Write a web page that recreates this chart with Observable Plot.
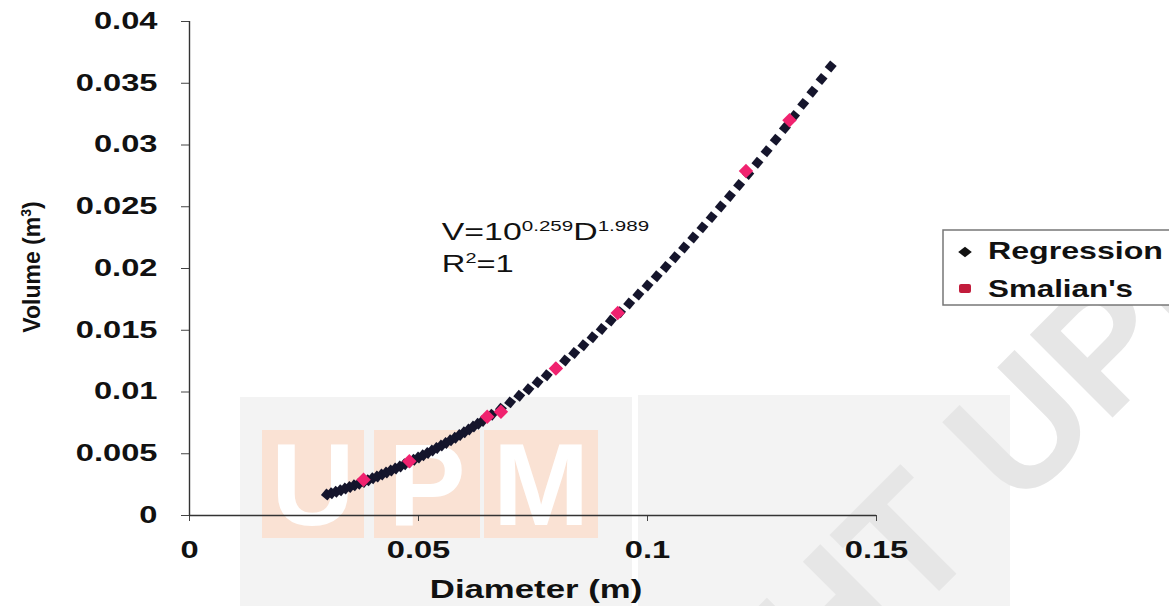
<!DOCTYPE html>
<html>
<head>
<meta charset="utf-8">
<script src="https://cdn.jsdelivr.net/npm/d3@7"></script>
<script src="https://cdn.jsdelivr.net/npm/@observablehq/plot@0.6"></script>
<style>
  html, body { margin: 0; padding: 0; background: #fff; }
  #wrap { position: relative; width: 1169px; height: 606px; overflow: hidden;
          font-family: "Liberation Sans", Arial, sans-serif; }
  #bg, #chart { position: absolute; left: 0; top: 0; }
</style>
</head>
<body>
<div id="wrap">
  <!-- faint university watermark behind the plot -->
  <svg id="bg" width="1169" height="606" font-family="Liberation Sans, Arial, sans-serif">
    <rect x="240" y="397" width="392" height="209" fill="#f3f3f3"/>
    <rect x="638" y="395" width="372" height="211" fill="#f3f3f3"/>
    <rect x="262" y="430" width="102" height="108" fill="#fae2d4"/>
    <rect x="374" y="430" width="106" height="108" fill="#fae2d4"/>
    <rect x="484" y="430" width="114" height="108" fill="#fae2d4"/>
    <g fill="#ffffff" font-weight="bold" font-size="116" text-anchor="middle">
      <text x="313" y="525">U</text>
      <text x="427" y="525">P</text>
      <text x="541" y="525">M</text>
    </g>
    <g transform="translate(785,745) rotate(-45)" fill="#e6e6e6" font-weight="bold" font-size="170">
      <text x="282" text-anchor="end">© COPYRIGHT</text>
      <text x="329">UPM</text>
    </g>
  </svg>
  <div id="chart"></div>
</div>
<script>
// Regression curve V = 10^0.259 · D^1.989, evaluated at the plotted diameters (m)
const diameter = [
  0.030, 0.031, 0.032, 0.033, 0.034, 0.035, 0.036, 0.037, 0.038, 0.039,
  0.040, 0.041, 0.042, 0.043, 0.044, 0.045, 0.046, 0.047, 0.048, 0.049,
  0.050, 0.051, 0.052, 0.053, 0.054, 0.055, 0.056, 0.057, 0.058, 0.059,
  0.060, 0.061, 0.062, 0.063, 0.064, 0.066, 0.068, 0.070, 0.072, 0.074,
  0.076, 0.078, 0.080, 0.082, 0.084, 0.086, 0.088, 0.090, 0.092, 0.094,
  0.096, 0.098, 0.100, 0.102, 0.104, 0.106, 0.108, 0.110, 0.112, 0.114,
  0.116, 0.118, 0.120, 0.122, 0.124, 0.126, 0.128, 0.130, 0.132, 0.134,
  0.136, 0.138, 0.140
];
const volume = [
  0.00170, 0.00181, 0.00193, 0.00205, 0.00218, 0.00231, 0.00244, 0.00258, 0.00272, 0.00286,
  0.00301, 0.00316, 0.00332, 0.00348, 0.00364, 0.00380, 0.00397, 0.00415, 0.00433, 0.00451,
  0.00469, 0.00488, 0.00507, 0.00527, 0.00547, 0.00567, 0.00588, 0.00609, 0.00630, 0.00652,
  0.00674, 0.00697, 0.00720, 0.00743, 0.00766, 0.00815, 0.00865, 0.00916, 0.00969, 0.01023,
  0.01079, 0.01136, 0.01195, 0.01255, 0.01316, 0.01379, 0.01444, 0.01510, 0.01578, 0.01646,
  0.01717, 0.01789, 0.01862, 0.01937, 0.02013, 0.02091, 0.02170, 0.02251, 0.02333, 0.02416,
  0.02502, 0.02588, 0.02676, 0.02765, 0.02856, 0.02949, 0.03043, 0.03138, 0.03235, 0.03333,
  0.03432, 0.03534, 0.03636
];

// Smalian's formula volumes of the sampled stems
const smalianDiameter = [0.038, 0.048, 0.065, 0.068, 0.080, 0.0935, 0.1215, 0.131];
const smalianVolume   = [0.0029, 0.0044, 0.0080, 0.0084, 0.0119, 0.0164, 0.0279, 0.0320];

const xTicks = [0, 0.05, 0.1, 0.15];
const yTicks = [0, 0.005, 0.01, 0.015, 0.02, 0.025, 0.03, 0.035, 0.04];
const seriesNames = ["Regression", "Smalian's"];
const xTitle = "Diameter (m)";
const yTitle = ["Volume (m", "3", ")"];
const equation = { base: "V=10", exp1: "0.259", mid: "D", exp2: "1.989", d: 0.0552, v: 0.0223 };
const fit = { text: "R", sup: "2", rest: "=1", d: 0.0552, v: 0.0197 };

const FONT = "'Liberation Sans', Arial, sans-serif";
const fmt = d => String(+d.toFixed(3));

const regression = diameter.map((d, i) => ({ d, v: volume[i] }));
const smalian = smalianDiameter.map((d, i) => ({ d, v: smalianVolume[i] }));

const chart = Plot.plot({
  width: 1169,
  height: 606,
  marginLeft: 189,
  marginRight: 293,
  marginTop: 21,
  marginBottom: 91,
  style: { background: "transparent", fontFamily: FONT, color: "#111", overflow: "visible" },
  x: { domain: [0, 0.15] },
  y: { domain: [0, 0.04] },
  marks: [
    Plot.axisY({ ticks: yTicks, tickFormat: fmt, tickSize: 8, tickPadding: 24,
                 fontSize: 23, fontWeight: "bold", label: null, stroke: "#444" }),
    Plot.axisX({ ticks: xTicks, tickFormat: fmt, tickSize: 6, tickPadding: 20,
                 fontSize: 23, fontWeight: "bold", label: null, stroke: "#444" }),
    Plot.ruleX([0], { stroke: "#333", strokeWidth: 1.4 }),
    Plot.ruleY([0], { stroke: "#333", strokeWidth: 1.4 }),
    Plot.dot(regression, { x: "d", y: "v", symbol: "square", r: 4.8, rotate: 40, fill: "#15152c" }),
    Plot.dot(smalian, { x: "d", y: "v", symbol: "diamond2", r: 6.5, fill: "#f0226f" })
  ]
});

document.getElementById("chart").append(chart);

// widen glyphs horizontally like the original artwork
function stretch(node, k, target) {
  const w = node.getComputedTextLength();
  node.setAttribute("textLength", target != null ? target : w * k);
  node.setAttribute("lengthAdjust", "spacingAndGlyphs");
}

const svg = d3.select(chart);
svg.selectAll("text").each(function () { stretch(this, 1.42); });

const xs = chart.scale("x"), ys = chart.scale("y");

// axis titles
const xt = svg.append("text")
  .attr("x", 536).attr("y", 598)
  .attr("text-anchor", "middle")
  .attr("font-size", 25).attr("font-weight", "bold").attr("fill", "#111")
  .text(xTitle);
stretch(xt.node(), 1.39);

const yt = svg.append("text")
  .attr("transform", "translate(40,267) rotate(-90)")
  .attr("text-anchor", "middle")
  .attr("font-size", 23).attr("font-weight", "bold").attr("fill", "#111");
yt.append("tspan").text(yTitle[0]);
yt.append("tspan").attr("dy", -9).attr("font-size", 14).text(yTitle[1]);
yt.append("tspan").attr("dy", 9).text(yTitle[2]);

// regression equation
const eq = svg.append("text")
  .attr("x", xs.apply(equation.d)).attr("y", ys.apply(equation.v))
  .attr("text-anchor", "start")
  .attr("font-size", 23).attr("fill", "#111");
eq.append("tspan").text(equation.base);
eq.append("tspan").attr("dy", -9).attr("font-size", 14).text(equation.exp1);
eq.append("tspan").attr("dy", 9).text(equation.mid);
eq.append("tspan").attr("dy", -9).attr("font-size", 14).text(equation.exp2);
stretch(eq.node(), 1.47);

const r2 = svg.append("text")
  .attr("x", xs.apply(fit.d)).attr("y", ys.apply(fit.v))
  .attr("text-anchor", "start")
  .attr("font-size", 23).attr("fill", "#111");
r2.append("tspan").text(fit.text);
r2.append("tspan").attr("dy", -9).attr("font-size", 14).text(fit.sup);
r2.append("tspan").attr("dy", 9).text(fit.rest);
stretch(r2.node(), 1.42);

// legend
const lg = svg.append("g").attr("text-anchor", "start");
lg.append("rect").attr("x", 943).attr("y", 230).attr("width", 240).attr("height", 75)
  .attr("fill", "#fff").attr("stroke", "#777").attr("stroke-width", 1.5);
lg.append("path").attr("d", d3.symbol(d3.symbolDiamond2, 70)())
  .attr("transform", "translate(965,252) scale(1.3,1)").attr("fill", "#111");
lg.append("rect").attr("x", 959).attr("y", 284).attr("width", 12).attr("height", 9)
  .attr("rx", 2).attr("fill", "#c21c3c");
const l1 = lg.append("text").attr("x", 988).attr("y", 259)
  .attr("font-size", 24).attr("font-weight", "bold").attr("fill", "#111").text(seriesNames[0]);
stretch(l1.node(), 1, 175);
const l2 = lg.append("text").attr("x", 988).attr("y", 297)
  .attr("font-size", 24).attr("font-weight", "bold").attr("fill", "#111").text(seriesNames[1]);
stretch(l2.node(), 1, 145);
</script>
</body>
</html>
